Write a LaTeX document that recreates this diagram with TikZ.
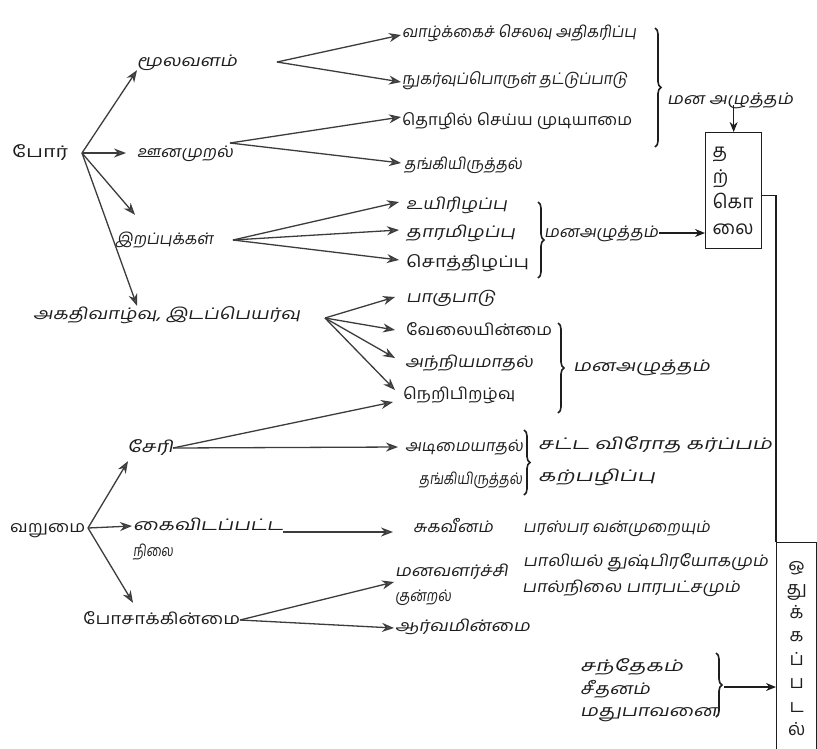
\documentclass[tikz,border=0pt]{standalone}
\usepackage{fontspec}
\usepackage{graphicx}
\newfontfamily\tamil[Script=Tamil]{Hind Madurai}
\newfontfamily\tamilsl[Script=Tamil,FakeSlant=0.15]{Hind Madurai}
\usetikzlibrary{arrows.meta,decorations.pathreplacing}
\definecolor{ink}{HTML}{1E1E1E}
\definecolor{lineg}{HTML}{3C3C3C}
\definecolor{headg}{HTML}{5A5A5A}
\newcommand\fitw[2]{\resizebox{#1pt}{\height}{#2}}
\begin{document}
\begin{tikzpicture}[x=1pt,y=-1pt,
  lbl/.style={anchor=west, inner sep=1pt, text height=8pt, text depth=0pt, text=ink,
              font=\tamilsl\fontsize{16}{18}\selectfont},
  lblu/.style={lbl, font=\tamil\fontsize{16}{18}\selectfont},
  arr/.style={draw=lineg, line width=1.3pt, -{Stealth[length=12pt,width=9pt,fill=headg]}},
  blk/.style={draw=ink, line width=1.3pt, -{Stealth[length=10pt,width=8pt]}},
  brace/.style={draw=ink, line width=1.6pt, decorate, decoration={brace, amplitude=6pt}},
  vbox/.style={draw=ink, line width=1.3pt, anchor=north west, text=ink}]
\useasboundingbox (0,0) rectangle (817,748);
\fill[white] (0,0) rectangle (817,748);
\clip (0,0) rectangle (817,748);

% level 0/1
\node[lblu] (por) at (11,153) {\fitw{56}{போர்}};
\node[lbl] (moola) at (136,62) {\fitw{100}{மூலவளம்}};
\node[lbl] (oona) at (136,153) {\fitw{96}{ஊனமுறல்}};
\node[lbl] (irap) at (114,240) {\fitw{98}{இறப்புக்கள்}};
\node[lbl] (akathi) at (32,315) {\fitw{267}{அகதிவாழ்வு, இடப்பெயர்வு}};

% level 2 (war)
\node[lbl] (vaazh) at (401,33) {\fitw{234}{வாழ்க்கைச் செலவு அதிகரிப்பு}};
\node[lbl] (nuka) at (401,80) {\fitw{225}{நுகர்வுப்பொருள் தட்டுப்பாடு}};
\node[lblu] (thozh) at (401,121) {\fitw{230}{தொழில் செய்ய முடியாமை}};
\node[lbl] (thangiA) at (403,165) {\fitw{118}{தங்கியிருத்தல்}};
\node[lbl] (uyir) at (405,205) {\fitw{101}{உயிரிழப்பு}};
\node[lbl] (thaara) at (405,233) {\fitw{109}{தாரமிழப்பு}};
\node[lblu] (soth) at (405,263) {\fitw{123}{சொத்திழப்பு}};
\node[lbl] (paaku) at (405,298) {\fitw{89}{பாகுபாடு}};
\node[lblu] (velai) at (405,331) {\fitw{146}{வேலையின்மை}};
\node[lbl] (anni) at (404,363) {\fitw{128}{அந்நியமாதல்}};
\node[lblu] (neri) at (402,395) {\fitw{112}{நெறிபிறழ்வு}};

% poverty
\node[lbl] (seri) at (126,448) {\fitw{46}{சேரி}};
\node[lblu] (varu) at (9,528) {\fitw{75}{வறுமை}};
\node[lbl] (kai) at (132,526) {\fitw{150}{கைவிடப்பட்ட}};
\node[lbl] (nilai) at (132,552) {\fitw{40}{நிலை}};
\node[lblu] (posa) at (82,620) {\fitw{157}{போசாக்கின்மை}};

\node[lbl] (adimai) at (404,447) {\fitw{118}{அடிமையாதல்}};
\node[lbl] (thangiB) at (418,480) {\fitw{103}{தங்கியிருத்தல்}};
\node[lbl] (suka) at (412,528) {\fitw{80}{சுகவீனம்}};
\node[lbl] (manav) at (394,572) {\fitw{113}{மனவளர்ச்சி}};
\node[lbl] (kunral) at (394,597) {\fitw{56}{குன்றல்}};
\node[lbl] (aarva) at (394,627) {\fitw{135}{ஆர்வமின்மை}};

\node[lbl] (sattam) at (537,445) {\fitw{234}{சட்ட விரோத கர்ப்பம்}};
\node[lbl] (karpa) at (537,477) {\fitw{117}{கற்பழிப்பு}};
\node[lbl] (paras) at (522,528) {\fitw{187}{பரஸ்பர வன்முறையும்}};
\node[lbl] (paali) at (522,562) {\fitw{245}{பாலியல் துஷ்பிரயோகமும்}};
\node[lbl] (paal) at (521,588) {\fitw{218}{பால்நிலை பாரபட்சமும்}};
\node[lbl] (santh) at (579,667) {\fitw{103}{சந்தேகம்}};
\node[lbl] (seeth) at (579,690) {\fitw{70}{சீதனம்}};
\node[lbl] (mathu) at (579,712) {\fitw{137}{மதுபாவனை}};

% stress labels
\node[lbl] (manaA) at (666,100) {\fitw{126}{மன அழுத்தம்}};
\node[lbl] (manaB) at (543,233) {\fitw{114}{மனஅழுத்தம்}};
\node[lbl] (manaC) at (572,367) {\fitw{137}{மனஅழுத்தம்}};

% boxes
\node[vbox, minimum width=55pt, minimum height=116pt, text width=42pt, inner xsep=7pt,
      align=left, font=\tamil\fontsize{19}{25.5}\selectfont] (tbox) at (705,132)
      {த\\ற்\\கொ\\லை};
\node[vbox, minimum width=40pt, minimum height=212pt, text width=34pt, inner xsep=3pt,
      align=center, font=\tamil\fontsize{18}{23.5}\selectfont] (obox) at (776,542)
      {ஒ\\து\\க்\\க\\ப்\\ப\\ட\\ல்};

% branch points
\coordinate (porB) at (82,153);
\coordinate (moolaB) at (277,62);
\coordinate (oonaB) at (230,143);
\coordinate (irapB) at (233,240);
\coordinate (akathiB) at (325,318);
\coordinate (seriB) at (173,448);
\coordinate (varuB) at (88,528);
\coordinate (kaiB) at (283,532);
\coordinate (posaB) at (240,620);
\coordinate (braceE) at (724,687);

% war
\draw[arr] (porB) -- ([xshift=1pt,yshift=-3pt]moola.south west);
\draw[arr] (porB) -- ([xshift=-10pt]oona.west);
\draw[arr] (porB) -- ([xshift=21pt,yshift=20pt]irap.north west);
\draw[arr] (porB) -- ([xshift=105pt,yshift=4pt]akathi.north west);

\draw[arr] (moolaB) -- ([yshift=-2pt]vaazh.west);
\draw[arr] (moolaB) -- ([yshift=-2pt]nuka.west);
\draw[arr] (oonaB) -- ([yshift=4pt]thozh.west);
\draw[arr] (oonaB) -- ([xshift=-2pt,yshift=2pt]thangiA.west);
\draw[arr] (irapB) -- ([xshift=-6pt,yshift=3pt]uyir.west);
\draw[arr] (irapB) -- ([xshift=-6pt,yshift=3pt]thaara.west);
\draw[arr] (irapB) -- ([xshift=-6pt,yshift=3pt]soth.west);
\draw[arr] (akathiB) -- ([xshift=-10pt,yshift=1pt]paaku.west);
\draw[arr] (akathiB) -- ([xshift=-10pt,yshift=1pt]velai.west);
\draw[arr] (akathiB) -- ([xshift=-9pt,yshift=5pt]anni.west);
\draw[arr] (akathiB) -- ([xshift=-7pt,yshift=5pt]neri.west);

% poverty
\draw[arr] (varuB) -- ([xshift=2pt,yshift=-8pt]seri.south west);
\draw[arr] (varuB) -- (kai.west);
\draw[arr] (varuB) -- ([xshift=51pt,yshift=12pt]posa.north west);
\draw[arr] (seriB) -- ([xshift=-9pt,yshift=-7pt]neri.west);
\draw[arr] (seriB) -- ([xshift=-6pt]adimai.west);
\draw[arr] (kaiB) -- ([xshift=-19pt,yshift=-4pt]suka.west);
\draw[arr] (posaB) -- ([yshift=-10pt]manav.west);
\draw[arr] (posaB) -- ([yshift=-1pt]aarva.west);

% braces
\draw[brace] (655,28) -- (655,147);
\draw[brace] (538,202) -- (538,278);
\draw[brace] (558,323) -- (558,413);
\draw[brace] (524,430) -- (524,495);
\draw[brace] (716,653) -- (716,717);

% into the boxes
\draw[blk] (manaA.south -| tbox.north) -- (tbox.north);
\draw[blk] (manaB.east) -- (manaB.east -| tbox.west);
\draw[blk] (braceE) -- (braceE -| obox.west);
\draw[draw=ink, line width=1.3pt] ([yshift=-5pt]tbox.east) -| (obox.north west);
\end{tikzpicture}
\end{document}
